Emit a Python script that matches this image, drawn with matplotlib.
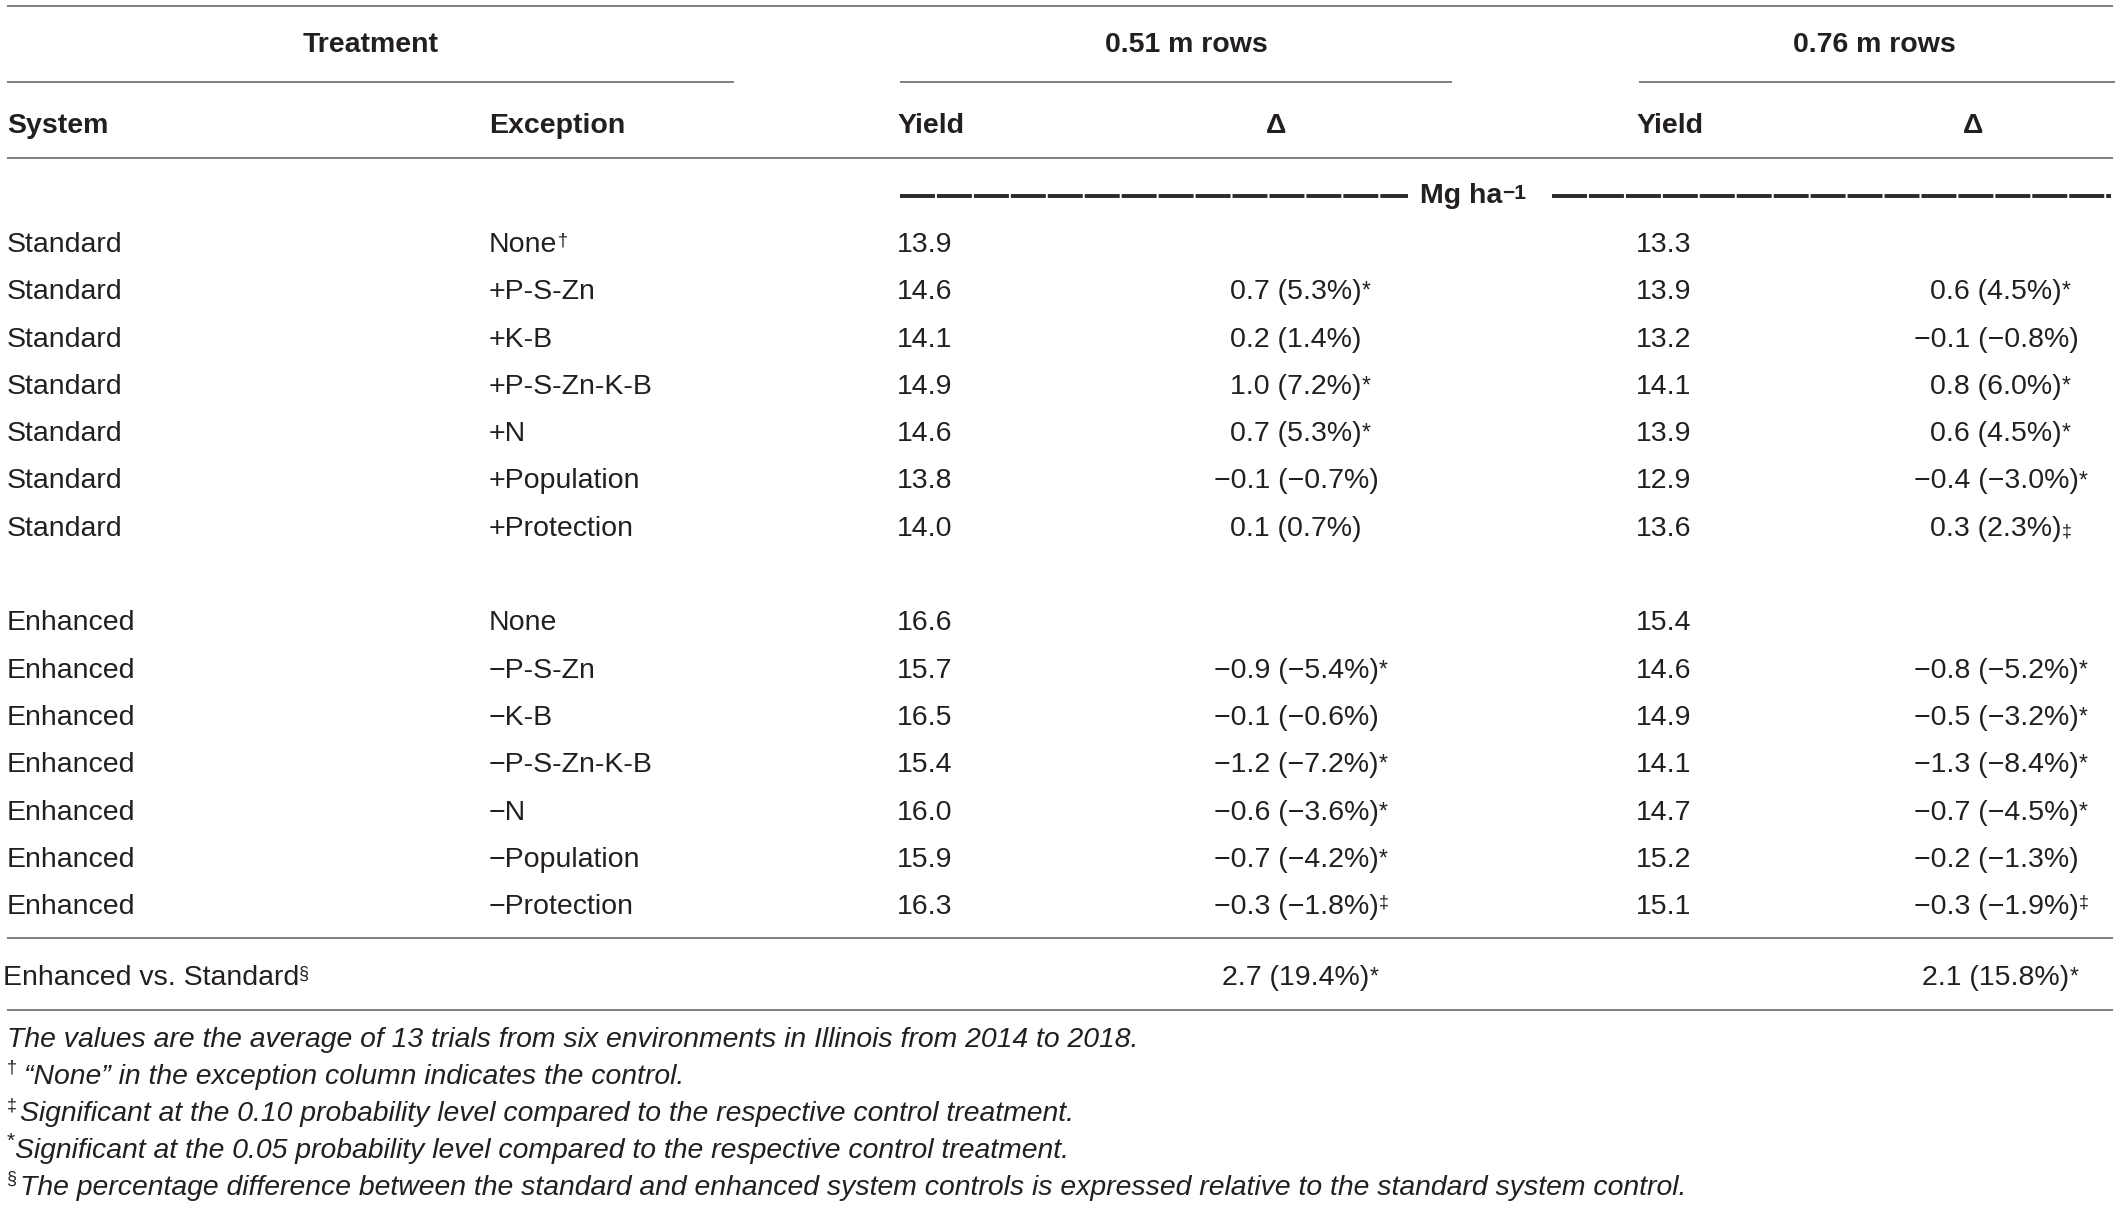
import matplotlib.pyplot as plt

# table contents
systems = ['Standard'] * 7 + ['Enhanced'] * 7
exceptions = ['None', '+P-S-Zn', '+K-B', '+P-S-Zn-K-B', '+N', '+Population', '+Protection',
              'None', '−P-S-Zn', '−K-B', '−P-S-Zn-K-B', '−N', '−Population', '−Protection']
exception_marks = ['†'] + [''] * 13

yield_051 = [13.9, 14.6, 14.1, 14.9, 14.6, 13.8, 14.0, 16.6, 15.7, 16.5, 15.4, 16.0, 15.9, 16.3]
delta_051 = [None, 0.7, 0.2, 1.0, 0.7, -0.1, 0.1, None, -0.9, -0.1, -1.2, -0.6, -0.7, -0.3]
pct_051 = [None, 5.3, 1.4, 7.2, 5.3, -0.7, 0.7, None, -5.4, -0.6, -7.2, -3.6, -4.2, -1.8]
sig_051 = ['', '*', '', '*', '*', '', '', '', '*', '', '*', '*', '*', '‡']

yield_076 = [13.3, 13.9, 13.2, 14.1, 13.9, 12.9, 13.6, 15.4, 14.6, 14.9, 14.1, 14.7, 15.2, 15.1]
delta_076 = [None, 0.6, -0.1, 0.8, 0.6, -0.4, 0.3, None, -0.8, -0.5, -1.3, -0.7, -0.2, -0.3]
pct_076 = [None, 4.5, -0.8, 6.0, 4.5, -3.0, 2.3, None, -5.2, -3.2, -8.4, -4.5, -1.3, -1.9]
sig_076 = ['', '*', '', '*', '*', '*', '‡', '', '*', '*', '*', '*', '', '‡']

summary_label = 'Enhanced vs. Standard'
summary_delta = [2.7, 2.1]
summary_pct = [19.4, 15.8]

footnotes = [
    ('', 'The values are the average of 13 trials from six environments in Illinois from 2014 to 2018.'),
    ('†', '“None” in the exception column indicates the control.'),
    ('‡', 'Significant at the 0.10 probability level compared to the respective control treatment.'),
    ('*', 'Significant at the 0.05 probability level compared to the respective control treatment.'),
    ('§', 'The percentage difference between the standard and enhanced system controls is expressed relative to the standard system control.'),
]

FONT = 'Liberation Sans'
TXT = '#231f20'
RULE = '#808080'
FS = 20.5
FS_SUP = 16.5
FS_NOTE = 20.4

plt.rcParams['font.family'] = [FONT, 'DejaVu Sans']

fig = plt.figure(figsize=(21.2, 12.08), dpi=100)
ax = fig.add_axes([0, 0, 1, 1])
ax.set_xlim(0, 2120)
ax.set_ylim(1208, 0)
ax.axis('off')

# column positions (pixels)
x_sys, x_exc, x_y1, x_d1, x_y2, x_d2 = 7, 489, 897, 1296, 1636, 1996


def fmt(v):
    s = '%.1f' % v
    return s.replace('-', '−')


def put(x, y, s, ha='left', weight='normal', size=FS, style='normal'):
    return ax.text(x, y, s, ha=ha, va='baseline', fontsize=size, color=TXT,
                   fontweight=weight, fontstyle=style)


def sup(t, s, size=FS_SUP, weight='normal', raised=True):
    if not s:
        return
    if raised:
        ax.annotate(s, xy=(1, 0.98), xycoords=t, ha='left', va='top',
                    fontsize=size, color=TXT, fontweight=weight)
    else:
        ax.annotate(s, xy=(1, 0.22), xycoords=t, ha='left', va='baseline',
                    fontsize=13, color=TXT, fontweight=weight)


def hline(x0, x1, y):
    ax.plot([x0, x1], [y, y], color=RULE, lw=1.4, solid_capstyle='butt')


# rules
hline(7, 2113, 6)
hline(7, 734, 82)
hline(900, 1452, 82)
hline(1639, 2115, 82)
hline(7, 2113, 158)
hline(7, 2113, 938)
hline(7, 2113, 1010)

# headers
put(371, 52, 'Treatment', ha='center', weight='bold')
put(1186, 52, '0.51 m rows', ha='center', weight='bold')
put(1874, 52, '0.76 m rows', ha='center', weight='bold')
put(x_sys, 133, 'System', weight='bold')
put(x_exc, 133, 'Exception', weight='bold')
put(x_y1, 133, 'Yield', weight='bold')
put(1276, 133, 'Δ', ha='center', weight='bold')
put(x_y2, 133, 'Yield', weight='bold')
put(1973, 133, 'Δ', ha='center', weight='bold')

# unit row with dashed rules
for x0, x1 in [(900, 1408), (1552, 2111)]:
    ax.plot([x0, x1], [196, 196], color='#2a2a2a', lw=2.8, dashes=(9, 0.5),
            solid_capstyle='butt')
t = put(1420, 203, 'Mg ha', weight='bold')
sup(t, '−1', size=15, weight='bold')

# body rows
row_base = 252
row_step = 47.3
for i in range(len(systems)):
    k = i if i < 7 else i + 1
    y = row_base + k * row_step
    put(x_sys, y, systems[i])
    t = put(x_exc, y, exceptions[i])
    sup(t, exception_marks[i], size=13)
    put(x_y1, y, '%.1f' % yield_051[i])
    put(x_y2, y, '%.1f' % yield_076[i])
    if delta_051[i] is not None:
        t = put(x_d1, y, '%s (%s%%)' % (fmt(delta_051[i]), fmt(pct_051[i])), ha='center')
        sup(t, sig_051[i], size=13 if sig_051[i] == '‡' else FS_SUP)
    if delta_076[i] is not None:
        t = put(x_d2, y, '%s (%s%%)' % (fmt(delta_076[i]), fmt(pct_076[i])), ha='center')
        # the 0.3 (2.3%) mark sits on the baseline in the source
        sup(t, sig_076[i], size=13 if sig_076[i] == '‡' else FS_SUP, raised=(i != 6))

# summary row
y = 985
t = put(3, y, summary_label)
sup(t, '§', size=13)
for xc, d, p in zip([x_d1, x_d2], summary_delta, summary_pct):
    t = put(xc, y, '%s (%s%%)' % (fmt(d), fmt(p)), ha='center')
    sup(t, '*')

# footnotes
note_x = [7, 24, 20, 15, 20]
for j, (mark, text) in enumerate(footnotes):
    y = 1047 + j * 37
    if mark:
        ax.text(7, y - 11, mark, ha='left', va='baseline',
                fontsize=15 if mark == '*' else 13, color=TXT)
    put(note_x[j], y, text, size=FS_NOTE, style='italic')

fig.savefig('out.png', dpi=100)
